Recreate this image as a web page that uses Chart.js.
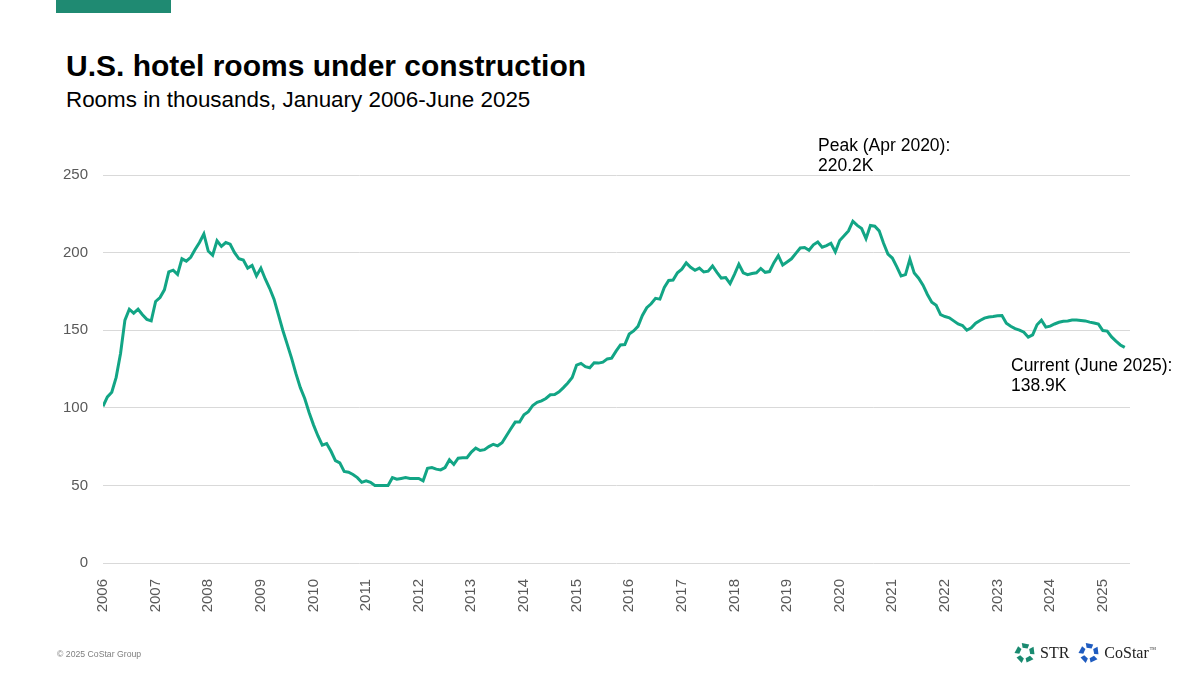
<!DOCTYPE html>
<html>
<head>
<meta charset="utf-8">
<script src="https://cdn.jsdelivr.net/npm/chart.js@4.4.1/dist/chart.umd.min.js"></script>
<style>
  body { margin:0; width:1200px; height:675px; overflow:hidden; background:#fff; position:relative;
         font-family:"Liberation Sans", Arial, sans-serif; color:#000; }
  .topbar { position:absolute; left:56px; top:0; width:115px; height:13px; background:#1f8a72; }
  .title { position:absolute; left:66px; top:51px; font-size:30px; font-weight:bold; line-height:1; white-space:nowrap; }
  .subtitle { position:absolute; left:66px; top:89px; font-size:22.4px; line-height:1; white-space:nowrap; }
  .note { position:absolute; font-size:17.5px; line-height:20px; white-space:nowrap; }
  .footer { position:absolute; left:57px; top:649px; font-size:8.7px; color:#7f7f7f; white-space:nowrap; }
  .logos { position:absolute; left:1014px; top:641px; height:24px; display:flex; align-items:center; white-space:nowrap;
           font-family:"Liberation Serif", "DejaVu Serif", serif; font-size:16px; color:#222; }
  .logos svg { margin-right:4px; }
  .logos .tm { font-size:4px; align-self:flex-start; margin-top:5px; margin-left:1px; }
  #wrap { position:absolute; left:0; top:0; width:1200px; height:675px; }
</style>
</head>
<body>
<div class="topbar"></div>
<div class="title">U.S. hotel rooms under construction</div>
<div class="subtitle">Rooms in thousands, January 2006-June 2025</div>
<div id="wrap"><canvas id="line-chart" width="1200" height="675"></canvas></div>
<div class="note" style="left:818px; top:135px;">Peak (Apr 2020):<br>220.2K</div>
<div class="note" style="left:1011px; top:355px;">Current (June 2025):<br>138.9K</div>
<div class="footer">© 2025 CoStar Group</div>
<div class="logos">
  <svg id="str-icon" width="22" height="22" viewBox="-11 -11 22 22"></svg><span style="margin-right:9px">STR</span>
  <svg id="costar-icon" width="22" height="22" viewBox="-11 -11 22 22"></svg><span>CoStar</span><span class="tm">TM</span>
</div>
<script>
// monthly rooms under construction, thousands (Jan-Dec each year)
var rooms2006 = [101, 107, 110, 119.6, 135, 156.5, 163.5, 161, 163.5, 160, 157, 156];
var rooms2007 = [168.5, 171, 176, 187.6, 188.7, 186, 196, 194.5, 197, 202, 206.5, 212];
var rooms2008 = [201, 198.3, 207.6, 204, 206.5, 205.4, 200, 196, 195.2, 190, 191.7, 185];
var rooms2009 = [190, 183, 177, 170, 160, 150, 141, 132, 122, 113, 106, 97];
var rooms2010 = [89, 82, 76, 77, 72, 66, 64.5, 59, 58.5, 57, 55, 52];
var rooms2011 = [53, 52, 50, 50, 50, 50, 55, 54, 54.5, 55, 54.5, 54.5];
var rooms2012 = [54.5, 53, 61, 61.5, 60.5, 60, 61.5, 66.5, 63.5, 67.5, 67.8, 67.8];
var rooms2013 = [71.5, 74, 72.5, 73, 75, 76.5, 75.5, 77.5, 82, 86.5, 90.8, 90.8];
var rooms2014 = [95.5, 97.5, 101.5, 103.5, 104.5, 106, 108.4, 108.6, 110.3, 113, 116, 119.5];
var rooms2015 = [127.5, 128.6, 126.5, 125.8, 129, 128.8, 129.4, 131.5, 132, 136.5, 140.5, 140.8];
var rooms2016 = [147.5, 149.5, 152.5, 159.5, 164.5, 167, 170.5, 170, 177.5, 182, 182.3, 187];
var rooms2017 = [189.3, 193.4, 190.5, 188.6, 190, 187.5, 188, 191.4, 187.3, 183.6, 183.9, 180];
var rooms2018 = [186, 192.5, 187, 185.8, 186.5, 187, 189.8, 187.3, 187.8, 193.5, 198, 192];
var rooms2019 = [194, 196, 199.5, 203, 203.3, 201.5, 205, 206.8, 203.5, 204.5, 206, 200.5];
var rooms2020 = [207.8, 210.8, 214, 220.2, 217.5, 215.5, 209, 217.5, 217, 214, 206, 199];
var rooms2021 = [196.5, 191, 185, 185.8, 195.7, 186.8, 183.5, 179, 173, 168, 166, 160];
var rooms2022 = [158.8, 158, 156, 154, 153, 150, 151.5, 154.5, 156.3, 157.8, 158.5, 158.8];
var rooms2023 = [159.3, 159.5, 154.5, 152.5, 151, 150, 148.7, 145.5, 147, 153.5, 156.4, 152];
var rooms2024 = [152.6, 154, 155.1, 155.8, 156, 156.6, 156.6, 156.3, 156, 155.2, 154.6, 153.9];
var rooms2025 = [149.8, 149.4, 145.7, 143, 140.5, 138.9];

var yearLabels = ['2006','2007','2008','2009','2010','2011','2012','2013','2014','2015',
                  '2016','2017','2018','2019','2020','2021','2022','2023','2024','2025'];
var yTicks = [0, 50, 100, 150, 200, 250];

var rooms = [].concat(rooms2006, rooms2007, rooms2008, rooms2009, rooms2010, rooms2011, rooms2012,
  rooms2013, rooms2014, rooms2015, rooms2016, rooms2017, rooms2018, rooms2019, rooms2020,
  rooms2021, rooms2022, rooms2023, rooms2024, rooms2025);

// month index on x so the year ticks sit on each January
var points = rooms.map(function(v, i) { return { x: i, y: v }; });

// little pinwheel logos
function drawIcon(id, color) {
  var svg = document.getElementById(id);
  var html = '';
  for (var k = 0; k < 5; k++) {
    html += '<polygon points="-3.2,-10 4.2,-8.6 2.6,-4.6 -2.4,-5.2" fill="' + color + '" transform="rotate(' + (k * 72) + ')"/>';
  }
  svg.innerHTML = html;
}
drawIcon('str-icon', '#1a8a70');
drawIcon('costar-icon', '#1f5cc0');

var grey = '#595959';

new Chart(document.getElementById('line-chart'), {
  type: 'line',
  data: {
    datasets: [{
      data: points,
      borderColor: '#12a585',
      borderWidth: 3,
      pointRadius: 0,
      tension: 0,
      fill: false
    }]
  },
  options: {
    responsive: false,
    animation: false,
    layout: { padding: { top: 175, right: 70, left: 0, bottom: 0 } },
    plugins: { legend: { display: false }, tooltip: { enabled: false } },
    scales: {
      x: {
        type: 'linear',
        min: 0,
        max: 234.2,
        grid: { display: false },
        border: { display: false },
        afterBuildTicks: function(axis) {
          axis.ticks = yearLabels.map(function(y, i) { return { value: i * 12 }; });
        },
        afterFit: function(axis) { axis.height = 112; },
        ticks: {
          autoSkip: false,
          maxRotation: 90,
          minRotation: 90,
          padding: 8,
          color: grey,
          font: { family: 'Liberation Sans', size: 15 },
          callback: function(v) { return yearLabels[Math.round(v / 12)]; }
        }
      },
      y: {
        min: 0,
        max: 250,
        afterBuildTicks: function(axis) {
          axis.ticks = yTicks.map(function(v) { return { value: v }; });
        },
        afterFit: function(axis) { axis.width = 103; },
        grid: { color: '#d9d9d9', lineWidth: 1, drawTicks: false },
        border: { display: false },
        ticks: {
          padding: 15,
          color: grey,
          font: { family: 'Liberation Sans', size: 15 }
        }
      }
    }
  }
});
</script>
</body>
</html>
